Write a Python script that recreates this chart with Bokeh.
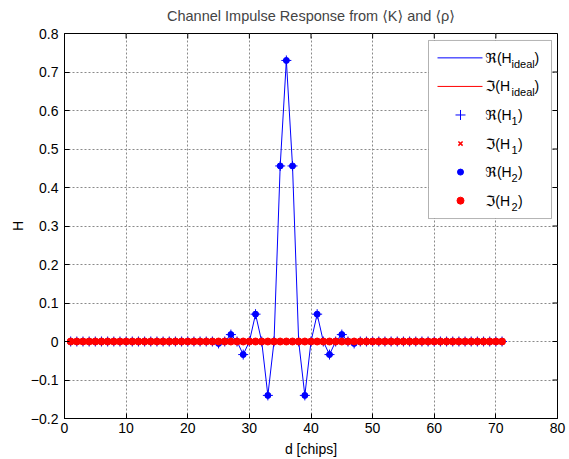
from bokeh.plotting import figure
from bokeh.models import Range1d, FixedTicker, Label, BoxAnnotation, Arrow, ColumnDataSource
from bokeh.embed import file_html
from bokeh.resources import INLINE

# ---------------- data ----------------
d_chips = list(range(1, 72))
re_ideal = [0, 0, 0, 0, 0, 0, 0, 0, 0, 0,
            0, 0, 0, 0, 0, 0, 0, 0, 0, 0,
            0, 0, 0, 0, -0.005, 0, 0.018, 0, -0.034, 0,
            0.071, 0, -0.14, 0, 0.456, 0.73, 0.456, 0, -0.14, 0,
            0.071, 0, -0.034, 0, 0.018, 0, -0.005, 0, 0, 0,
            0, 0, 0, 0, 0, 0, 0, 0, 0, 0,
            0, 0, 0, 0, 0, 0, 0, 0, 0, 0,
            0]
im_ideal = [0] * 71
re_h1 = [0, 0, 0, 0, 0, 0, 0, 0, 0, 0,
         0, 0, 0, 0, 0, 0, 0, 0, 0, 0,
         0, 0, 0, 0, -0.005, 0, 0.018, 0, -0.034, 0,
         0.071, 0, -0.14, 0, 0.456, 0.73, 0.456, 0, -0.14, 0,
         0.071, 0, -0.034, 0, 0.018, 0, -0.005, 0, 0, 0,
         0, 0, 0, 0, 0, 0, 0, 0, 0, 0,
         0, 0, 0, 0, 0, 0, 0, 0, 0, 0,
         0]
im_h1 = [0] * 71
re_h2 = list(re_h1)
im_h2 = [0] * 71

x_ticks = [0, 10, 20, 30, 40, 50, 60, 70, 80]
y_ticks = [-0.2, -0.1, 0.0, 0.1, 0.2, 0.3, 0.4, 0.5, 0.6, 0.7, 0.8]
y_tick_labels = ["-0.2", "-0.1", "0", "0.1", "0.2", "0.3", "0.4", "0.5", "0.6", "0.7", "0.8"]

title_text = "Channel Impulse Response from \u27e8K\u27e9 and \u27e8\u03c1\u27e9"
x_label = "d [chips]"
y_label = "H"
legend_main = ["\u211c(H", "\u2111(H", "\u211c(H", "\u2111(H", "\u211c(H", "\u2111(H"]
legend_sub = ["ideal", "ideal", "1", "1", "2", "2"]

# ---------------- layout ----------------
FONT = "'Liberation Sans', 'DejaVu Sans', sans-serif"
BLUE = "#0000ff"
RED = "#ff0000"
X0, X1, Y0, Y1 = 0, 80, -0.2, 0.8
W, H = 569, 459
# frame position in page pixels
FLp, FRp, FTp, FBp = 64, 557, 31, 418
TICK = 5


def px2x(px):
    return X0 + (px - FLp) / (FRp - FLp) * (X1 - X0)


def py2y(py):
    return Y1 - (py - FTp) / (FBp - FTp) * (Y1 - Y0)


p = figure(width=W, height=H, x_range=Range1d(X0, X1), y_range=Range1d(Y0, Y1),
           output_backend="svg", toolbar_location=None,
           min_border_left=FLp, min_border_right=W - FRp,
           min_border_top=FTp, min_border_bottom=H - FBp)
p.background_fill_color = "white"
p.border_fill_color = "white"
p.outline_line_color = "black"
p.outline_line_width = 1

p.title.text = title_text
p.title.text_font = FONT
p.title.text_font_size = "14.5px"
p.title.text_font_style = "normal"
p.title.align = "center"
p.title.vertical_align = "top"
p.title.standoff = 15

ov = {f"{v:g}": s for v, s in zip(y_ticks, y_tick_labels)}

for ax in (p.xaxis[0], p.yaxis[0]):
    ax.axis_line_color = "black"
    ax.major_tick_in = TICK
    ax.major_tick_out = 0
    ax.minor_tick_line_color = None
    ax.major_label_text_font = FONT
    ax.major_label_text_font_size = "14px"
    ax.major_label_text_color = "black"
    ax.axis_label_text_font = FONT
    ax.axis_label_text_font_size = "14px"
    ax.axis_label_text_font_style = "normal"
    ax.axis_label_text_color = "black"

p.xaxis.ticker = FixedTicker(ticks=x_ticks)
p.yaxis.ticker = FixedTicker(ticks=y_ticks)
p.yaxis.major_label_overrides = ov
p.xaxis.axis_label = x_label
p.yaxis.axis_label = y_label
p.xaxis.major_label_standoff = 4
p.xaxis.axis_label_standoff = 5
p.yaxis.major_label_standoff = 6
p.yaxis.axis_label_standoff = 2

p.xgrid.ticker = FixedTicker(ticks=x_ticks)
p.ygrid.ticker = FixedTicker(ticks=y_ticks)
for g in (p.xgrid[0], p.ygrid[0]):
    g.grid_line_color = "#8a8a8a"
    g.grid_line_dash = "2 2"
    g.grid_line_width = 1

# inward ticks on the top and right edges of the box
top_src = ColumnDataSource(dict(x0=x_ticks, y0=[Y1] * len(x_ticks),
                                x1=x_ticks, y1=[py2y(FTp + TICK)] * len(x_ticks)))
right_src = ColumnDataSource(dict(x0=[X1] * len(y_ticks), y0=y_ticks,
                                  x1=[px2x(FRp - TICK)] * len(y_ticks), y1=y_ticks))
for src in (top_src, right_src):
    p.add_layout(Arrow(end=None, x_start="x0", y_start="y0", x_end="x1", y_end="y1",
                       source=src, line_color="black", line_width=1))

# ---------------- data glyphs ----------------
p.line(d_chips, re_ideal, line_color=BLUE, line_width=1)
p.line(d_chips, im_ideal, line_color=RED, line_width=1)
p.scatter(d_chips, re_h1, marker="cross", size=10, line_color=BLUE, line_width=1)
p.scatter(d_chips, im_h1, marker="x", size=6, line_color=RED, line_width=1.5)
p.scatter(d_chips, re_h2, marker="circle", size=6, fill_color=BLUE, line_color=BLUE)
p.scatter(d_chips, im_h2, marker="circle", size=7, fill_color=RED, line_color=RED)

# ---------------- legend ----------------
box = BoxAnnotation(left=px2x(428), right=px2x(551), top=py2y(38), bottom=py2y(217),
                    fill_color="white", fill_alpha=1.0, line_color="black", line_width=1,
                    level="underlay")
p.add_layout(box)

row_py = [38 + 17.5 + i * 28.7 for i in range(6)]
ys = [py2y(v) for v in row_py]
p.line([px2x(437), px2x(482)], [ys[0], ys[0]], line_color=BLUE, line_width=1)
p.line([px2x(437), px2x(482)], [ys[1], ys[1]], line_color=RED, line_width=1)
p.scatter([px2x(460)], [ys[2]], marker="cross", size=10, line_color=BLUE, line_width=1)
p.scatter([px2x(460)], [ys[3]], marker="x", size=6, line_color=RED, line_width=1.5)
p.scatter([px2x(460)], [ys[4]], marker="circle", size=6, fill_color=BLUE, line_color=BLUE)
p.scatter([px2x(460)], [ys[5]], marker="circle", size=7, fill_color=RED, line_color=RED)

MAIN_W = 26   # estimated pixel width of the main part
SUB_W = {"ideal": 23, "1": 6.5, "2": 6.5}
for i in range(6):
    y = ys[i]
    p.add_layout(Label(x=px2x(485), y=y, text=legend_main[i], text_font=FONT,
                       text_font_size="14px", text_baseline="middle", text_color="black"))
    sx = 485 + MAIN_W
    p.add_layout(Label(x=px2x(sx), y=y, y_offset=-6, text=legend_sub[i], text_font=FONT,
                       text_font_size="11px", text_baseline="middle", text_color="black"))
    p.add_layout(Label(x=px2x(sx + SUB_W[legend_sub[i]]), y=y, text=")", text_font=FONT,
                       text_font_size="14px", text_baseline="middle", text_color="black"))

open("out.html", "w").write(file_html(p, INLINE))
